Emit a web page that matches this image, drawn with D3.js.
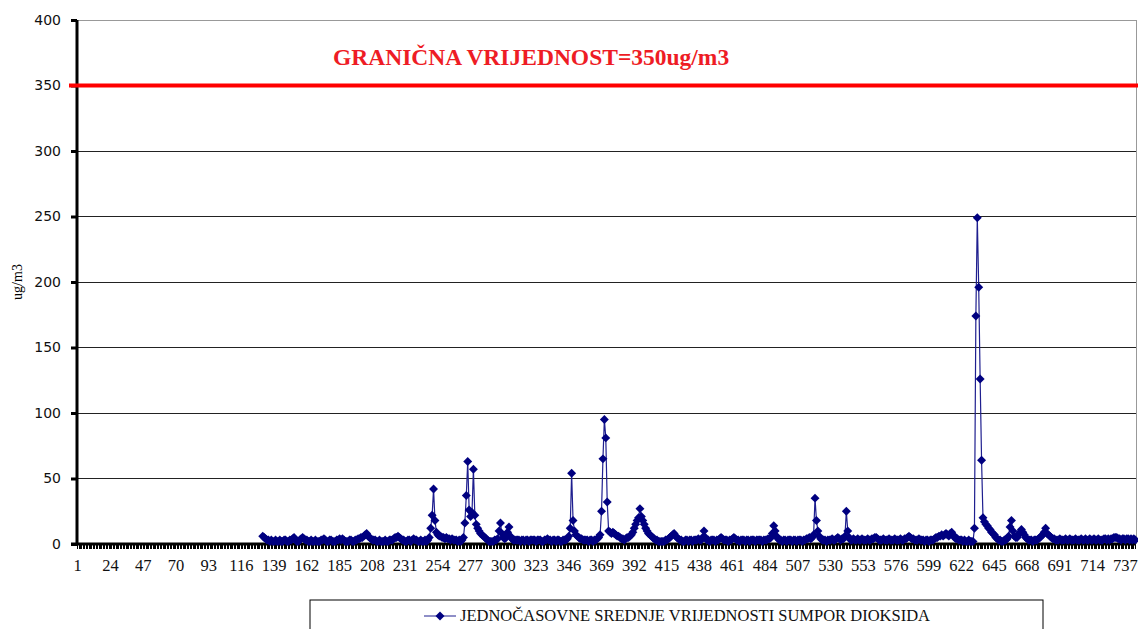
<!DOCTYPE html>
<html>
<head>
<meta charset="utf-8">
<script src="https://cdn.jsdelivr.net/npm/d3@7"></script>
<style>
  html, body { margin: 0; padding: 0; background: #fff; }
  svg { display: block; }
</style>
</head>
<body>
<svg id="chart" width="1138" height="629"></svg>
<script>
// hours of the month (1..744), hourly SO2 means start at hour 131
const hourCount = 744;
const firstHour = 131;
const so2 = [
  6, 5, 4, 3, 3, 2, 3, 2, 2, 3,        // 131
  2, 2, 3, 2, 2, 3, 3, 2, 2, 3,        // 141
  3, 4, 5, 3, 2, 2, 3, 4, 5, 4,        // 151
  3, 3, 2, 2, 3, 2, 2, 3, 2, 2,        // 161
  2, 3, 3, 4, 3, 2, 2, 3, 3, 2,        // 171
  2, 2, 3, 3, 4, 3, 4, 3, 2, 2,        // 181
  2, 3, 3, 2, 2, 3, 3, 4, 4, 5,        // 191
  5, 6, 7, 8, 6, 5, 4, 3, 3, 3,        // 201
  2, 2, 3, 2, 2, 2, 3, 2, 2, 3,        // 211
  3, 3, 4, 5, 5, 6, 5, 4, 3, 3,        // 221
  2, 2, 3, 3, 2, 3, 4, 3, 3, 2,        // 231
  2, 3, 2, 2, 3, 2, 3, 5, 12, 22,      // 241
  42, 18, 9, 7, 6, 6, 5, 5, 4, 5,      // 251
  4, 4, 3, 4, 3, 3, 3, 2, 3, 2,        // 261
  3, 5, 16, 37, 63, 26, 21, 24, 57, 22, // 271
  15, 12, 10, 8, 7, 6, 5, 4, 3, 2,     // 281
  2, 2, 2, 3, 3, 4, 10, 16, 8, 5,      // 291
  4, 5, 9, 13, 6, 4, 3, 3, 3, 3,       // 301
  3, 2, 3, 3, 2, 3, 3, 2, 3, 3,        // 311
  3, 3, 2, 3, 3, 3, 2, 2, 3, 3,        // 321
  4, 3, 3, 2, 3, 3, 2, 3, 3, 2,        // 331
  2, 3, 3, 3, 4, 6, 12, 54, 18, 10,    // 341
  7, 6, 5, 4, 4, 3, 3, 3, 3, 2,        // 351
  3, 3, 2, 3, 3, 4, 5, 7, 25, 65,      // 361
  95, 81, 32, 10, 9, 8, 9, 8, 7, 6,    // 371
  6, 5, 4, 4, 3, 4, 5, 5, 6, 7,        // 381
  9, 12, 15, 18, 20, 27, 21, 18, 15, 12, // 391
  10, 8, 7, 6, 5, 4, 3, 3, 2, 2,       // 401
  2, 2, 2, 3, 3, 4, 5, 6, 7, 8,        // 411
  6, 5, 4, 3, 3, 2, 2, 3, 3, 2,        // 421
  3, 3, 2, 3, 3, 3, 4, 3, 3, 5,        // 431
  10, 5, 3, 3, 2, 3, 3, 3, 2, 3,       // 441
  3, 4, 5, 4, 3, 3, 3, 2, 3, 3,        // 451
  4, 5, 4, 3, 3, 2, 3, 3, 3, 2,        // 461
  3, 3, 2, 3, 3, 3, 2, 3, 3, 3,        // 471
  3, 2, 3, 3, 3, 4, 4, 5, 8, 14,       // 481
  10, 6, 4, 3, 3, 2, 3, 3, 2, 3,       // 491
  3, 3, 2, 3, 3, 2, 3, 3, 3, 2,        // 501
  3, 3, 4, 4, 5, 4, 5, 7, 35, 18,      // 511
  10, 6, 4, 3, 3, 3, 2, 3, 3, 3,       // 521
  4, 3, 3, 4, 5, 4, 3, 4, 4, 6,        // 531
  25, 10, 5, 3, 3, 4, 3, 3, 4, 3,      // 541
  3, 4, 3, 3, 3, 4, 3, 3, 4, 4,        // 551
  5, 5, 4, 3, 3, 3, 4, 3, 3, 3,        // 561
  4, 3, 3, 3, 4, 3, 3, 3, 4, 3,        // 571
  3, 4, 4, 5, 6, 5, 4, 4, 3, 3,        // 581
  3, 4, 3, 3, 3, 2, 3, 3, 2, 3,        // 591
  3, 3, 4, 5, 5, 6, 6, 7, 6, 7,        // 601
  8, 7, 6, 8, 9, 7, 5, 4, 4, 3,        // 611
  3, 3, 2, 3, 2, 2, 3, 2, 2, 2,        // 621
  12, 174, 249, 196, 126, 64, 20, 17, 15, 14, // 631
  12, 11, 9, 8, 7, 5, 4, 3, 3, 2,      // 641
  2, 3, 3, 4, 6, 13, 18, 10, 6, 5,     // 651
  5, 7, 9, 11, 9, 7, 5, 4, 3, 3,       // 661
  3, 2, 3, 3, 3, 4, 5, 6, 7, 9,        // 671
  12, 8, 7, 6, 5, 4, 4, 3, 3, 3,       // 681
  4, 3, 3, 3, 4, 3, 3, 4, 3, 3,        // 691
  3, 4, 3, 3, 3, 4, 3, 3, 4, 3,        // 701
  3, 4, 3, 3, 4, 3, 3, 4, 3, 3,        // 711
  3, 4, 4, 3, 4, 3, 4, 4, 5, 5,        // 721
  5, 4, 4, 3, 4, 4, 3, 4, 4, 3,        // 731
  4, 3, 4, 3                           // 741
];
const xTickLabels = [1, 24, 47, 70, 93, 116, 139, 162, 185, 208, 231, 254, 277, 300, 323,
  346, 369, 392, 415, 438, 461, 484, 507, 530, 553, 576, 599, 622, 645, 668, 691, 714, 737];
const yTicks = [0, 50, 100, 150, 200, 250, 300, 350, 400];
const limitValue = 350;
const limitLabel = "GRANIČNA VRIJEDNOST=350ug/m3";
const seriesName = "JEDNOČASOVNE SREDNJE VRIJEDNOSTI SUMPOR DIOKSIDA";
const yTitle = "ug/m3";

const plotL = 77, plotR = 1136, plotT = 20, plotB = 544;
const svg = d3.select("#chart");

const hours = d3.range(1, hourCount + 1);
const x = d3.scaleBand().domain(hours).range([plotL, plotR]);
const cx = h => x(h) + x.bandwidth() / 2;
const y = d3.scaleLinear().domain([0, 400]).range([plotB, plotT]);

const points = so2.map((v, k) => ({ h: firstHour + k, v: v }));

// gridlines
svg.append("g")
  .selectAll("line")
  .data(yTicks.filter(t => t > 0))
  .join("line")
    .attr("x1", plotL).attr("x2", plotR)
    .attr("y1", d => y(d)).attr("y2", d => y(d))
    .attr("stroke", d => d === 400 ? "#999" : "#222")
    .attr("stroke-width", 1)
    .attr("shape-rendering", "crispEdges");

// right border
svg.append("line")
  .attr("x1", plotR).attr("x2", plotR)
  .attr("y1", plotT).attr("y2", plotB)
  .attr("stroke", "#999")
  .attr("shape-rendering", "crispEdges");

// y axis
const yAxis = svg.append("g")
  .attr("transform", `translate(${plotL},0)`)
  .call(d3.axisLeft(y).tickValues(yTicks).tickSize(6).tickPadding(10).tickFormat(d3.format("d")));
yAxis.select(".domain").attr("stroke", "#000").attr("stroke-width", 3).attr("d", `M0,${plotT}V${plotB}`);
yAxis.selectAll(".tick line").attr("stroke", "#000").attr("stroke-width", 3);
yAxis.selectAll(".tick text")
  .attr("font-family", "DejaVu Sans, sans-serif")
  .attr("font-size", 14)
  .attr("fill", "#111");

// x axis: a tick for every hour, labels every 23 hours
const xAxis = svg.append("g")
  .attr("transform", `translate(0,${plotB})`)
  .call(d3.axisBottom(x).tickValues(hours).tickSize(5).tickFormat(""));
xAxis.select(".domain").attr("stroke", "#000").attr("stroke-width", 3).attr("d", `M${plotL - 6},0H${plotR}`);
xAxis.selectAll(".tick line").attr("stroke", "#000").attr("shape-rendering", "crispEdges");

svg.append("g")
  .selectAll("text")
  .data(xTickLabels)
  .join("text")
    .attr("x", d => cx(d))
    .attr("y", 571)
    .attr("text-anchor", "middle")
    .attr("font-family", "Liberation Serif, Times New Roman, serif")
    .attr("font-size", 16.5)
    .attr("fill", "#111")
    .text(d => d);

// y title
svg.append("text")
  .attr("transform", `translate(22,${(plotT + plotB) / 2}) rotate(-90)`)
  .attr("text-anchor", "middle")
  .attr("font-family", "Liberation Serif, Times New Roman, serif")
  .attr("font-size", 14)
  .text(yTitle);

// limit line and its label
svg.append("line")
  .attr("x1", plotL - 8).attr("x2", 1138)
  .attr("y1", y(limitValue)).attr("y2", y(limitValue))
  .attr("stroke", "#ff0000")
  .attr("stroke-width", 4);
svg.append("text")
  .attr("x", 333)
  .attr("y", 65)
  .attr("font-family", "Liberation Serif, Times New Roman, serif")
  .attr("font-weight", "bold")
  .attr("font-size", 23.5)
  .attr("fill", "#ee1c25")
  .text(limitLabel);

// series line + diamonds
const line = d3.line().x(d => cx(d.h)).y(d => y(d.v));
svg.append("path")
  .datum(points)
  .attr("d", line)
  .attr("fill", "none")
  .attr("stroke", "#1f1f8f")
  .attr("stroke-width", 1.2);

const diamond = d3.symbol(d3.symbolSquare, 40);
svg.append("g")
  .selectAll("path")
  .data(points)
  .join("path")
    .attr("d", diamond)
    .attr("transform", d => `translate(${cx(d.h)},${y(d.v)}) rotate(45)`)
    .attr("fill", "#000080");

// legend
const lg = svg.append("g");
lg.append("rect")
  .attr("x", 310).attr("y", 600)
  .attr("width", 733).attr("height", 40)
  .attr("fill", "#fff")
  .attr("stroke", "#000");
lg.append("line")
  .attr("x1", 424).attr("x2", 456)
  .attr("y1", 616).attr("y2", 616)
  .attr("stroke", "#1f1f8f");
lg.append("path")
  .attr("d", diamond)
  .attr("transform", "translate(440,616) rotate(45)")
  .attr("fill", "#000080");
lg.append("text")
  .attr("x", 460).attr("y", 621)
  .attr("font-family", "Liberation Serif, Times New Roman, serif")
  .attr("font-size", 16.5)
  .attr("fill", "#111")
  .text(seriesName);
</script>
</body>
</html>
